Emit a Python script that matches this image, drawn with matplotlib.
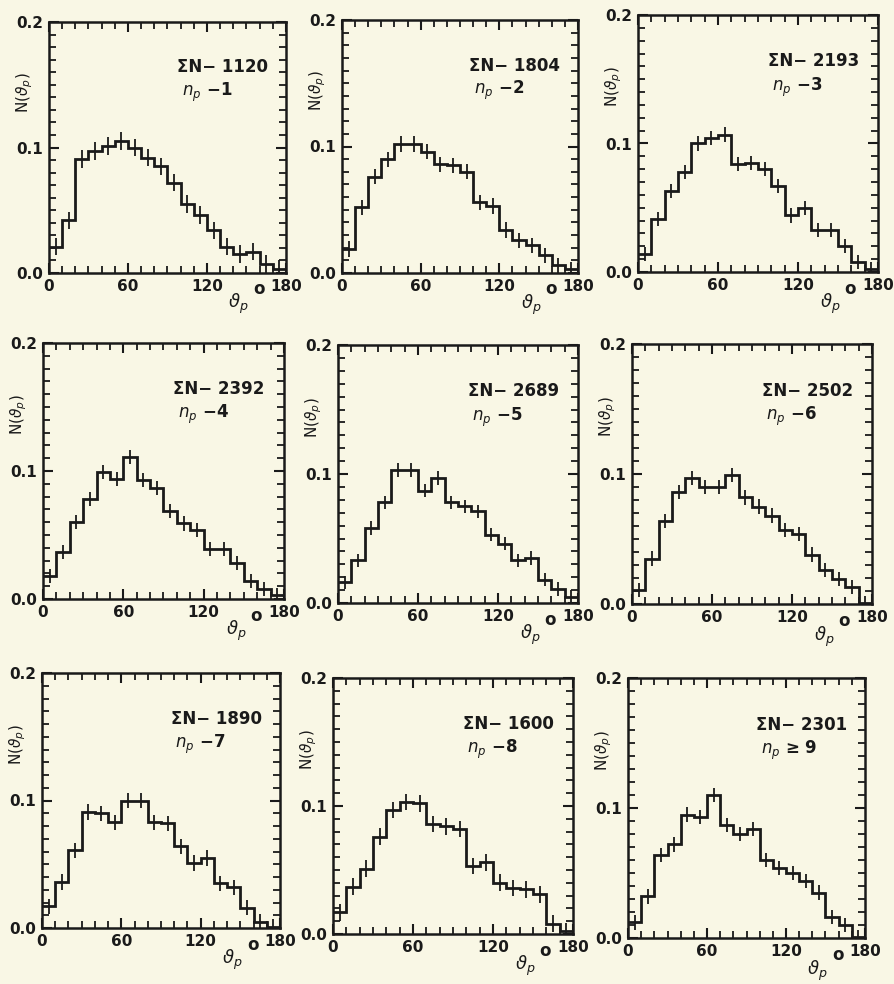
import numpy as np
import matplotlib
matplotlib.use("Agg")
import matplotlib.pyplot as plt
from matplotlib.ticker import MultipleLocator

plt.rcParams['font.family'] = ['DejaVu Sans']
plt.rcParams['mathtext.fontset'] = 'dejavusans'

bin_edges = list(range(0, 190, 10))
x_ticks = [0, 60, 120, 180]
y_ticks = [0.0, 0.1, 0.2]
y_tick_labels = ["0.0", "0.1", "0.2"]

total_N = [1120, 1804, 2193, 2392, 2689, 2502, 1890, 1600, 2301]
np_labels = ["−1", "−2", "−3", "−4", "−5", "−6", "−7", "−8", "≥ 9"]

h1 = [0.021, 0.042, 0.091, 0.097, 0.101, 0.105, 0.100, 0.092, 0.085, 0.072, 0.055, 0.046, 0.034, 0.021, 0.015, 0.017, 0.007, 0.003]
h2 = [0.019, 0.052, 0.076, 0.090, 0.102, 0.102, 0.096, 0.086, 0.085, 0.080, 0.056, 0.053, 0.034, 0.026, 0.022, 0.014, 0.006, 0.003]
h3 = [0.014, 0.041, 0.063, 0.078, 0.100, 0.104, 0.107, 0.084, 0.085, 0.080, 0.067, 0.044, 0.050, 0.033, 0.033, 0.020, 0.008, 0.002]
h4 = [0.018, 0.037, 0.060, 0.078, 0.099, 0.094, 0.111, 0.093, 0.087, 0.069, 0.059, 0.054, 0.039, 0.039, 0.028, 0.014, 0.008, 0.003]
h5 = [0.016, 0.033, 0.058, 0.078, 0.103, 0.103, 0.087, 0.097, 0.078, 0.075, 0.071, 0.053, 0.046, 0.033, 0.035, 0.018, 0.011, 0.005]
h6 = [0.011, 0.035, 0.064, 0.086, 0.097, 0.090, 0.090, 0.099, 0.082, 0.075, 0.068, 0.057, 0.054, 0.038, 0.026, 0.019, 0.013, 0.001]
h7 = [0.017, 0.036, 0.061, 0.091, 0.090, 0.083, 0.100, 0.100, 0.083, 0.082, 0.064, 0.051, 0.055, 0.035, 0.032, 0.016, 0.005, 0.001]
h8 = [0.017, 0.037, 0.051, 0.076, 0.097, 0.103, 0.102, 0.086, 0.084, 0.082, 0.053, 0.056, 0.040, 0.036, 0.035, 0.031, 0.008, 0.002]
h9 = [0.012, 0.032, 0.064, 0.072, 0.095, 0.093, 0.110, 0.087, 0.080, 0.084, 0.060, 0.054, 0.050, 0.044, 0.035, 0.016, 0.010, 0.001]
hists = [h1, h2, h3, h4, h5, h6, h7, h8, h9]

# half-length of the error bars per panel
err_half = [0.007, 0.006, 0.0055, 0.0055, 0.0052, 0.0055, 0.006, 0.0065, 0.0055]

# axes rectangles in pixels (left, top, right, bottom)
W, H = 895, 984
boxes = [
    (49, 22, 286, 273), (342, 20, 578, 273), (638, 15, 878, 272),
    (43, 343, 284, 599), (338, 345, 578, 603), (632, 344, 872, 604),
    (42, 673, 280, 928), (333, 678, 573, 934), (628, 678, 865, 938),
]

bg = '#f9f7e5'
ink = '#1a1a1a'
fig = plt.figure(figsize=(W / 100, H / 100), dpi=100, facecolor=bg)

edges = np.array(bin_edges, dtype=float)
centers = (edges[:-1] + edges[1:]) / 2

for i, (l, t, r, b) in enumerate(boxes):
    ax = fig.add_axes([l / W, 1 - b / H, (r - l) / W, (b - t) / H])
    ax.set_facecolor(bg)
    vals = np.array(hists[i])
    ax.stairs(vals, edges, color=ink, lw=2.0, baseline=None)
    ax.errorbar(centers, vals, yerr=err_half[i], fmt='none', ecolor=ink, elinewidth=1.3, capsize=0)
    ax.set_xlim(0, 180)
    ax.set_ylim(0, 0.2)
    ax.set_xticks(x_ticks)
    ax.set_xticklabels([str(v) for v in x_ticks])
    ax.set_yticks(y_ticks)
    ax.set_yticklabels(y_tick_labels)
    ax.xaxis.set_minor_locator(MultipleLocator(10))
    ax.yaxis.set_minor_locator(MultipleLocator(0.01))
    ax.tick_params(which='both', direction='in', top=True, right=True, color=ink)
    ax.tick_params(which='major', length=7, width=1.5, labelsize=11, pad=4)
    ax.tick_params(which='minor', length=5, width=1.3)
    for lab in ax.get_xticklabels() + ax.get_yticklabels():
        lab.set_fontweight('bold')
        lab.set_color(ink)
    for sp in ax.spines.values():
        sp.set_linewidth(1.8)
        sp.set_color(ink)
    ax.set_ylabel(r'N($\vartheta_p$)', fontsize=11, color=ink, labelpad=-2)
    ax.yaxis.set_label_coords(-0.06, 0.72)
    ax.text(0.80, -0.125, r'$\vartheta_p$', transform=ax.transAxes, fontsize=13,
            ha='center', va='center', color=ink)
    ax.text(0.885, -0.065, 'o', transform=ax.transAxes, fontsize=12, fontweight='bold',
            ha='center', va='center', color=ink)
    ax.text(0.54, 0.82, f'ΣN− {total_N[i]}', transform=ax.transAxes, fontsize=12,
            fontweight='bold', ha='left', va='center', color=ink)
    ax.text(0.56, 0.72, r'$n_p$ ' + np_labels[i], transform=ax.transAxes, fontsize=12,
            fontweight='bold', ha='left', va='center', color=ink)

fig.savefig('out.png', dpi=100, facecolor=bg)
